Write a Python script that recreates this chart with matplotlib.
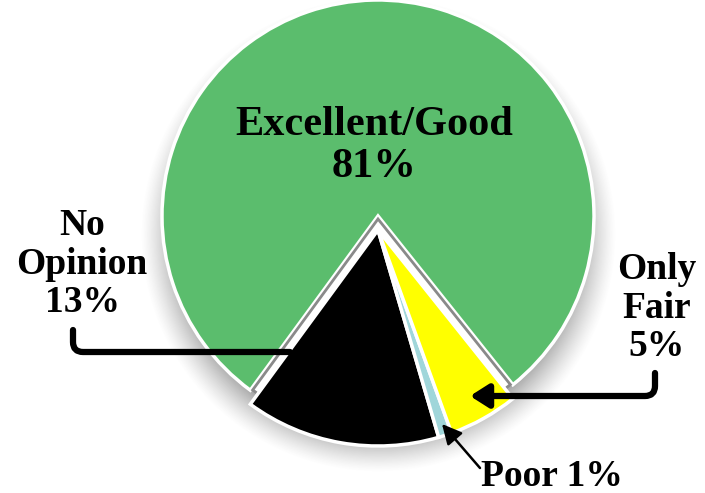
import numpy as np
import matplotlib
matplotlib.use("Agg")
import matplotlib.pyplot as plt
from matplotlib.patches import FancyArrowPatch, Wedge

# data: slice shares as drawn in the picture, and the printed labels
labels = ["Excellent/Good\n81%", "No\nOpinion\n13%", "Poor 1%", "Only\nFair\n5%"]
shares = [79.2, 14.6, 1.0, 5.2]
colors = ["#5bbd6d", "#000000", "#a0d6da", "#ffff00"]

W, H = 705, 493
fig = plt.figure(figsize=(W / 100, H / 100), dpi=100)
ax = fig.add_axes([0, 0, 1, 1])


def py(y):
    # image pixel row -> axes y
    return H - y


cx, cy, r = 378, py(216), 216
drop = 14  # small slices pulled down together

# soft drop shadow
xx, yy = np.meshgrid(np.arange(W), np.arange(H))
d = np.hypot(xx - cx, yy - (216 + 18))
a = np.clip((r + 22 - d) / 44.0, 0, 1) ** 1.3 * 0.6
shadow = np.zeros((H, W, 4))
shadow[..., :3] = 0.28
shadow[..., 3] = a
ax.imshow(shadow, extent=(0, W, 0, H), origin="upper", zorder=0, interpolation="bilinear")

start = -90 + sum(shares[1:]) / 100 * 180 + 1.2
wedges, _ = ax.pie(shares, colors=colors, startangle=start, counterclock=True,
                   center=(cx, cy), radius=r,
                   wedgeprops=dict(edgecolor="white", linewidth=2.5))
for w in wedges:
    w.set_zorder(2)

# notch outline left by the pulled-out slices
small = sum(shares[1:]) / 100 * 360
notch = Wedge((cx, cy - 3), r - 4, start - small, start, facecolor="white",
              edgecolor="#8a8a8a", linewidth=2, zorder=1.5)
ax.add_patch(notch)
wedges[0].set_zorder(1)
for w in wedges[1:]:
    w.set_center((cx, cy - drop))

ax.set_xlim(0, W)
ax.set_ylim(0, H)
ax.set_aspect("equal")
ax.axis("off")

font = dict(family="Liberation Serif", weight="bold", color="black")

ax.text(374, py(146), labels[0], ha="center", va="center",
        fontsize=30.5, linespacing=1.15, zorder=5, **font)
ax.text(82, py(264), labels[1], ha="center", va="center",
        fontsize=27, linespacing=1.12, zorder=5, **font)
ax.text(657, py(308), labels[3], ha="center", va="center",
        fontsize=27, linespacing=1.12, zorder=5, **font)
ax.text(552, py(477), labels[2], ha="center", va="center",
        fontsize=27, zorder=5, **font)

# connectors
c1 = FancyArrowPatch((73, py(330)), (290, py(352)), arrowstyle="-",
                     connectionstyle="angle,angleA=90,angleB=0,rad=10",
                     linewidth=4.5, color="black", shrinkA=0, shrinkB=0,
                     capstyle="round", zorder=6)
ax.add_patch(c1)
c2 = FancyArrowPatch((655, py(373)), (470, py(396)),
                     arrowstyle="-|>,head_length=0.55,head_width=0.35",
                     connectionstyle="angle,angleA=90,angleB=0,rad=10",
                     linewidth=4.5, color="black", shrinkA=0, shrinkB=0,
                     mutation_scale=20, zorder=6)
ax.add_patch(c2)
c3 = FancyArrowPatch((480, py(468)), (442, py(424)),
                     arrowstyle="-|>,head_length=0.6,head_width=0.3",
                     linewidth=1.8, color="black", shrinkA=0, shrinkB=0,
                     mutation_scale=20, zorder=6)
ax.add_patch(c3)

fig.savefig("out.png", dpi=100)
